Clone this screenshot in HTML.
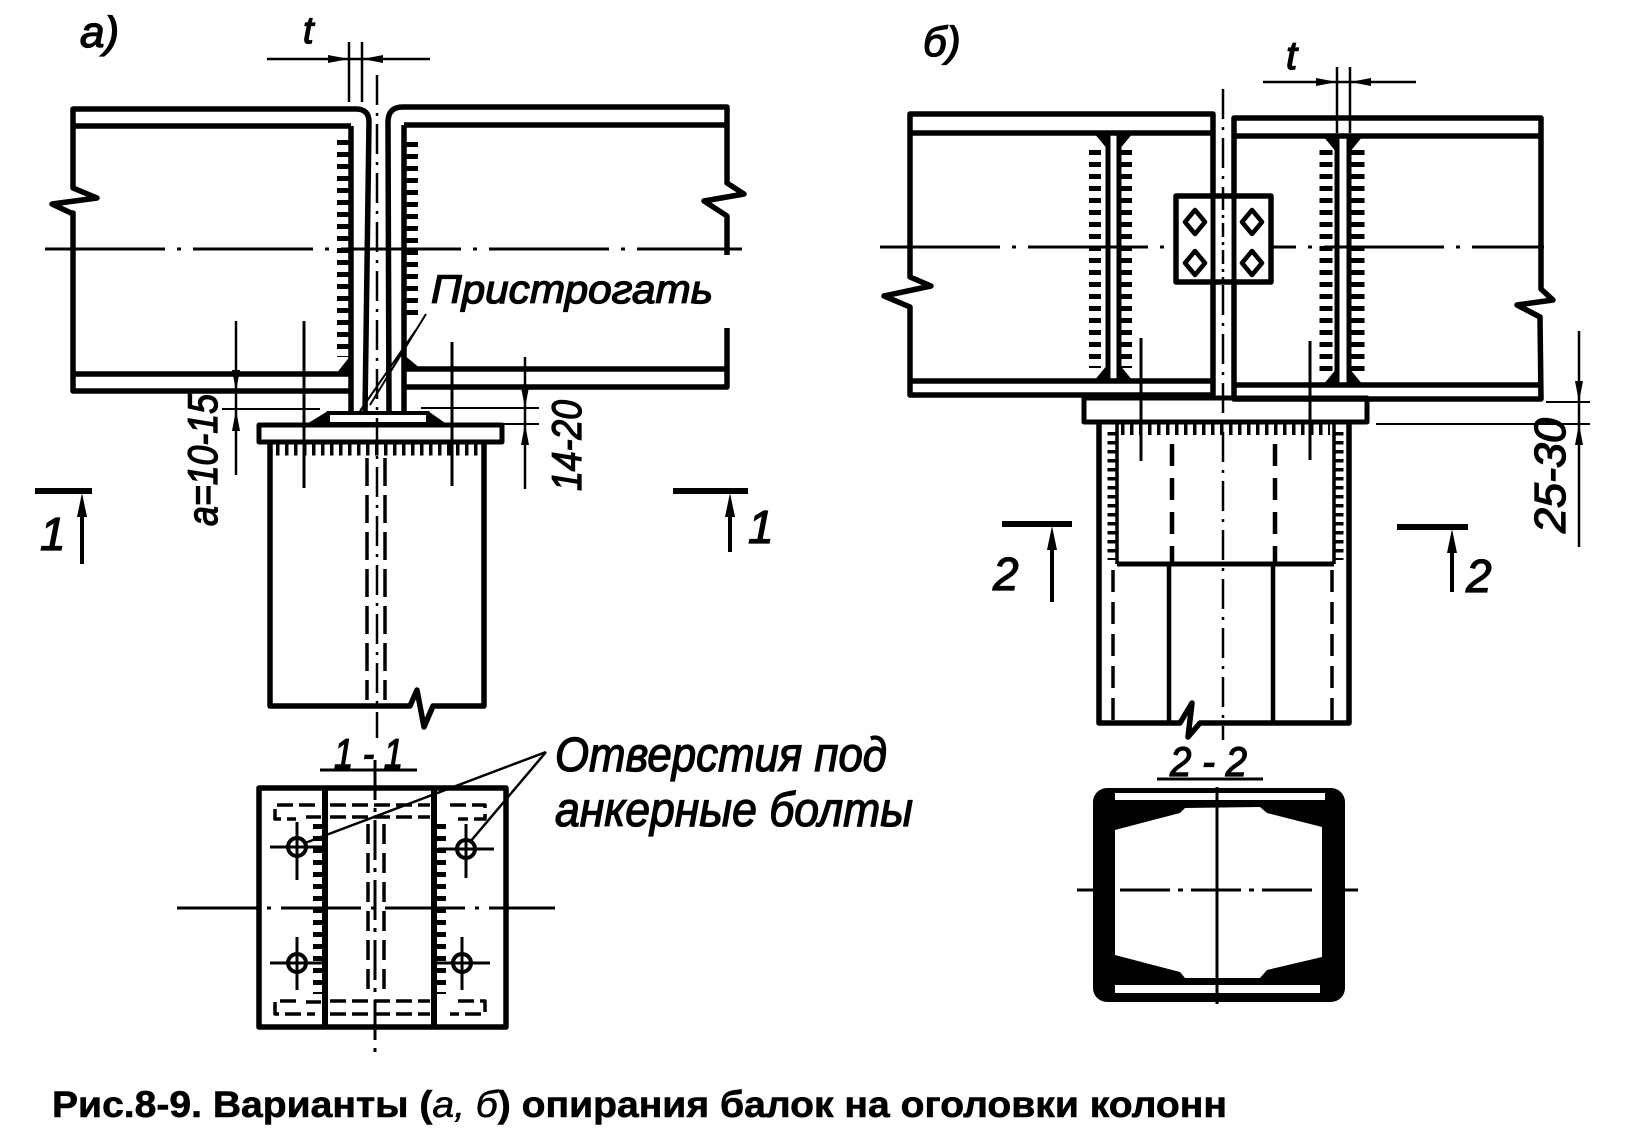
<!DOCTYPE html>
<html><head><meta charset="utf-8">
<style>
html,body{margin:0;padding:0;background:#fff;}
svg{display:block;}
text{font-family:"Liberation Sans","DejaVu Sans",sans-serif;fill:#000;stroke:none;}
.it{font-style:italic;stroke:#000;stroke-width:1.3px;}
</style></head><body>
<svg width="1634" height="1145" viewBox="0 0 1634 1145" xmlns="http://www.w3.org/2000/svg">
<rect width="1634" height="1145" fill="#fff"/>
<g fill="none" stroke="#000" stroke-linejoin="round">

<!-- ============ a) ============ -->
<path d="M356 109 L73 109 L73 188 L97 198 L52 204 L71 213 L73 213 L73 391 L351 391" stroke-width="5.5"/>
<path d="M356 109 Q369 109 369 122 L365 412" stroke-width="5.5"/>
<path d="M351 126 L351 412" stroke-width="5.5"/>
<path d="M73 126 L351 126 M73 374 L351 374" stroke-width="5.5"/>
<path d="M389 412 L388 122 Q388 107 403 107 L727 107 L727 183 L744 194 L704 201 L727 216 L727 255 M727 328 L727 387 L404 387" stroke-width="5.5"/>
<path d="M404 125 L404 412" stroke-width="5.5"/>
<path d="M404 125 L727 125 M404 369 L727 369" stroke-width="5.5"/>
<path d="M343 140 L343 357" stroke-width="12" stroke-dasharray="5 7"/>
<path d="M412 142 L412 320" stroke-width="12" stroke-dasharray="5 7"/>
<polygon points="336,374 351,374 351,355" fill="#000" stroke="none"/>
<polygon points="404,355 404,369 421,369" fill="#000" stroke="none"/>
<path d="M45 249 L742 249" stroke-width="3" stroke-dasharray="120 12 4 12"/>
<path d="M377 75 L377 738" stroke-width="2.5" stroke-dasharray="30 8 3 8"/>
<path d="M267 59 L430 59" stroke-width="2.5"/>
<path d="M349 42 L349 102 M362 42 L362 102" stroke-width="2.5"/>
<polygon points="349,59 328,55 328,63" fill="#000" stroke="none"/>
<polygon points="362,59 383,55 383,63" fill="#000" stroke="none"/>
<rect x="328" y="413" width="100" height="11" stroke-width="4"/>
<polygon points="305,425 328,425 328,411" fill="#000" stroke="none"/>
<polygon points="428,411 428,425 448,425" fill="#000" stroke="none"/>
<rect x="259" y="425" width="243" height="17" stroke-width="5"/>
<path d="M270 442 L270 706 L410 706 L417 690 L424 727 L433 706 L484 706 L484 442" stroke-width="5.5"/>
<path d="M276 449 L480 449" stroke-width="13" stroke-dasharray="3.5 5.5"/>
<path d="M367 458 L367 700 M385 458 L385 700" stroke-width="3.5" stroke-dasharray="28 9"/>
<path d="M304 321 L304 488 M452 342 L452 486" stroke-width="3"/>
<path d="M426 314 L370 405 M416 330 L360 411" stroke-width="2"/>
<path d="M236 321 L236 475" stroke-width="2.5"/>
<polygon points="236,391 232,370 240,370" fill="#000" stroke="none"/>
<polygon points="236,410 232,431 240,431" fill="#000" stroke="none"/>
<path d="M222 409 L320 409" stroke-width="2"/>
<path d="M525 357 L525 489" stroke-width="2.5"/>
<polygon points="525,408 521,387 529,387" fill="#000" stroke="none"/>
<polygon points="525,424 521,445 529,445" fill="#000" stroke="none"/>
<path d="M421 408 L539 408 M501 424 L539 424" stroke-width="2"/>
<path d="M35 491 L92 491 M673 491 L748 491" stroke-width="6"/>
<path d="M82 564 L82 510 M730 552 L730 510" stroke-width="4"/>
<polygon points="82,493 77,517 87,517" fill="#000" stroke="none"/>
<polygon points="730,493 725,517 735,517" fill="#000" stroke="none"/>

<!-- section 1-1 -->
<path d="M320 770 L417 770" stroke-width="3"/>
<rect x="259" y="788" width="247" height="239" stroke-width="5.5"/>
<path d="M325 788 L325 1027 M434 788 L434 1027" stroke-width="6"/>
<path d="M319 824 L319 994" stroke-width="12" stroke-dasharray="5 7"/>
<path d="M440 824 L440 994" stroke-width="12" stroke-dasharray="5 7"/>
<path d="M375 760 L375 1054" stroke-width="3" stroke-dasharray="40 8 4 8"/>
<path d="M368 824 L368 998 M384 824 L384 998" stroke-width="3.5" stroke-dasharray="20 9"/>
<path d="M177 908 L555 908" stroke-width="3" stroke-dasharray="80 10 4 10"/>
<path d="M315 805 L275 805 L275 819 L296 819 M306 817 L321 817 M330 805 L430 805 M330 817 L430 817 M450 805 L485 805 L485 819 L458 819" stroke-width="3.5" stroke-dasharray="16 6"/>
<path d="M296 1001 L275 1001 L275 1014 L315 1014 M306 1002 L321 1002 M330 1001 L430 1001 M330 1014 L430 1014 M458 1001 L485 1001 L485 1014 L450 1014" stroke-width="3.5" stroke-dasharray="16 6"/>
<g stroke-width="4">
<circle cx="297" cy="847" r="9"/><circle cx="466" cy="849" r="9"/>
<circle cx="297" cy="963" r="9"/><circle cx="462" cy="963" r="9"/>
</g>
<path d="M270 847 L326 847 M297 822 L297 880 M438 849 L494 849 M466 824 L466 878 M270 963 L326 963 M297 937 L297 990 M434 963 L490 963 M462 937 L462 990" stroke-width="3"/>
<path d="M546 752 L305 843 M546 752 L470 842" stroke-width="2.5"/>

<!-- ============ б) ============ -->
<path d="M1213 114 L910 114 L910 277 L931 286 L884 296 L910 307 L910 395 L1213 395 Z" stroke-width="5.5"/>
<path d="M910 133 L1213 133 M910 381 L1213 381" stroke-width="5.5"/>
<path d="M1108 133 L1108 381 M1119 133 L1119 381" stroke-width="5"/>
<path d="M1095 150 L1095 368" stroke-width="12" stroke-dasharray="5 7"/>
<path d="M1126 150 L1126 368" stroke-width="12" stroke-dasharray="5 7"/>
<polygon points="1094,133 1108,133 1108,150" fill="#000" stroke="none"/>
<polygon points="1119,133 1133,133 1119,150" fill="#000" stroke="none"/>
<polygon points="1094,381 1108,381 1108,364" fill="#000" stroke="none"/>
<polygon points="1119,381 1133,381 1119,364" fill="#000" stroke="none"/>
<path d="M1234 399 L1234 118 L1541 118 L1541 289 L1553 300 L1517 305 L1540 317 L1541 399 Z" stroke-width="5.5"/>
<path d="M1234 136 L1541 136 M1234 385 L1541 385" stroke-width="5.5"/>
<path d="M1337 136 L1337 385 M1349 136 L1349 385" stroke-width="5"/>
<path d="M1326 150 L1326 372" stroke-width="13" stroke-dasharray="5 7"/>
<path d="M1358 150 L1358 372" stroke-width="13" stroke-dasharray="5 7"/>
<polygon points="1323,136 1337,136 1337,153" fill="#000" stroke="none"/>
<polygon points="1349,136 1363,136 1349,153" fill="#000" stroke="none"/>
<polygon points="1323,385 1337,385 1337,368" fill="#000" stroke="none"/>
<polygon points="1349,385 1363,385 1349,368" fill="#000" stroke="none"/>
<path d="M880 247 L1544 247" stroke-width="3" stroke-dasharray="120 12 4 12"/>
<path d="M1223 89 L1223 740" stroke-width="2.5" stroke-dasharray="30 8 3 8"/>
<rect x="1176" y="196" width="95" height="86" fill="#fff" stroke-width="5.5"/>
<path d="M1213 196 L1213 282 M1234 196 L1234 282" stroke-width="5"/>
<path d="M1223 196 L1223 282" stroke-width="2.5" stroke-dasharray="14 5 3 5"/>
<g stroke-width="4.5">
<polygon points="1195,210 1205,222 1195,234 1185,222"/>
<polygon points="1252,210 1262,222 1252,234 1242,222"/>
<polygon points="1195,251 1205,263 1195,275 1185,263"/>
<polygon points="1252,251 1262,263 1252,275 1242,263"/>
</g>
<path d="M1263 82 L1416 82" stroke-width="2.5"/>
<path d="M1337 67 L1337 133 M1350 67 L1350 133" stroke-width="2.5"/>
<polygon points="1337,82 1316,78 1316,86" fill="#000" stroke="none"/>
<polygon points="1350,82 1371,78 1371,86" fill="#000" stroke="none"/>
<rect x="1084" y="398" width="283" height="24" stroke-width="5"/>
<path d="M1099 422 L1099 723 L1180 723 L1192 703 L1188 737 L1200 723 L1349 723 L1349 422" stroke-width="5.5"/>
<path d="M1117 422 L1117 564 M1334 422 L1334 564" stroke-width="3.5"/>
<path d="M1112 432 L1112 560" stroke-width="9" stroke-dasharray="3.5 5.5"/>
<path d="M1339 432 L1339 560" stroke-width="9" stroke-dasharray="3.5 5.5"/>
<path d="M1121 429 L1330 429" stroke-width="12" stroke-dasharray="3.5 5.5"/>
<path d="M1113 570 L1113 720 M1332 570 L1332 720" stroke-width="3.5" stroke-dasharray="22 10"/>
<path d="M1117 564 L1334 564" stroke-width="5"/>
<path d="M1172 444 L1172 564 M1275 444 L1275 564" stroke-width="4.5" stroke-dasharray="22 12"/>
<path d="M1169 564 L1169 723 M1273 564 L1273 723" stroke-width="4.5"/>
<path d="M1141 338 L1141 461 M1310 341 L1310 460" stroke-width="3"/>
<path d="M1579 331 L1579 547" stroke-width="2.5"/>
<polygon points="1579,402 1575,381 1583,381" fill="#000" stroke="none"/>
<polygon points="1579,424 1575,445 1583,445" fill="#000" stroke="none"/>
<path d="M1546 402 L1590 402 M1376 424 L1590 424" stroke-width="2"/>
<path d="M1002 524 L1072 524 M1397 527 L1468 527" stroke-width="6"/>
<path d="M1052 602 L1052 545 M1452 592 L1452 548" stroke-width="4"/>
<polygon points="1052,526 1047,550 1057,550" fill="#000" stroke="none"/>
<polygon points="1452,529 1447,553 1457,553" fill="#000" stroke="none"/>

<!-- section 2-2 -->
<path d="M1157 779 L1263 779" stroke-width="3"/>
<rect x="1093" y="788" width="252" height="214" rx="14" fill="#000" stroke="none"/>
<rect x="1115" y="793" width="210" height="7" fill="#fff" stroke="none"/>
<rect x="1115" y="985" width="205" height="8" fill="#fff" stroke="none"/>
<polygon points="1115,830 1180,813 1185,808 1260,807 1267,813 1322,827 1322,957 1267,970 1260,978 1185,978 1180,972 1115,955" fill="#fff" stroke="none"/>
<path d="M1077 890 L1093 890 M1345 890 L1358 890" stroke-width="3"/>
<path d="M1120 890 L1320 890" stroke-width="3" stroke-dasharray="50 8 5 8"/>
<path d="M1217 787 L1217 1004" stroke-width="3"/>
</g>

<!-- ============ text ============ -->
<text class="it" x="80" y="47" font-size="44">а)</text>
<text class="it" x="923" y="56" font-size="42">б)</text>
<text class="it" x="303" y="43" font-size="38">t</text>
<text class="it" x="1286" y="69" font-size="40">t</text>
<text class="it" x="431" y="303" font-size="40" textLength="282" lengthAdjust="spacingAndGlyphs">Пристрогать</text>
<text class="it" transform="translate(217,526) rotate(-90)" font-size="42" textLength="132" lengthAdjust="spacingAndGlyphs">а=10-15</text>
<text class="it" transform="translate(581,491) rotate(-90)" font-size="42" textLength="91" lengthAdjust="spacingAndGlyphs">14-20</text>
<text class="it" transform="translate(1565,533) rotate(-90)" font-size="44" textLength="115" lengthAdjust="spacingAndGlyphs">25-30</text>
<text class="it" x="40" y="550" font-size="46">1</text>
<text class="it" x="748" y="543" font-size="46">1</text>
<text class="it" x="993" y="590" font-size="46">2</text>
<text class="it" x="1466" y="592" font-size="46">2</text>
<text class="it" x="334" y="768" font-size="42" textLength="69" lengthAdjust="spacingAndGlyphs">1 - 1</text>
<text class="it" x="1170" y="776" font-size="42" textLength="77" lengthAdjust="spacingAndGlyphs">2 - 2</text>
<text class="it" x="555" y="771" font-size="48" textLength="332" lengthAdjust="spacingAndGlyphs">Отверстия под</text>
<text class="it" x="555" y="826" font-size="48" textLength="358" lengthAdjust="spacingAndGlyphs">анкерные болты</text>
<text x="52" y="1117" font-size="37" font-weight="bold" textLength="1175" lengthAdjust="spacingAndGlyphs" style="font-family:'Liberation Sans Narrow','Liberation Sans',sans-serif;stroke:#000;stroke-width:0.6px;">Рис.8-9. Варианты (<tspan font-style="italic" font-weight="normal">а, б</tspan>) опирания балок на оголовки колонн</text>
</svg>
</body></html>
